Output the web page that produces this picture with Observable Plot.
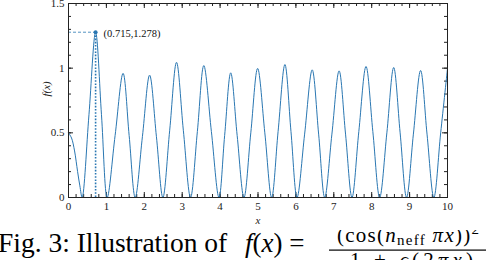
<!DOCTYPE html>
<html>
<head>
<meta charset="utf-8">
<script src="https://cdn.jsdelivr.net/npm/d3@7"></script>
<script src="https://cdn.jsdelivr.net/npm/@observablehq/plot@0.6"></script>
<style>
  html, body { margin: 0; padding: 0; background: white; width: 486px; height: 260px; overflow: hidden; }
  svg { display: block; }
  .serif, .serif text { font-family: "Liberation Serif", "Times New Roman", Times, "DejaVu Serif", serif !important; }
</style>
</head>
<body>
<div id="chart"></div>
<script>
// curve samples
const xs = [0, 0.08, 0.16, 0.24, 0.30, 0.36, 0.54, 0.715, 0.87, 1.02, 1.23, 1.44, 1.60, 1.76, 1.95, 2.14, 2.32, 2.49,
  2.67, 2.85, 3.03, 3.22, 3.40, 3.57, 3.77, 3.97, 4.12, 4.28, 4.45, 4.63, 4.81, 4.99, 5.18, 5.36, 5.53, 5.71, 5.87,
  6.03, 6.23, 6.43, 6.60, 6.76, 6.95, 7.14, 7.31, 7.48, 7.66, 7.85, 8.03, 8.21, 8.40, 8.58, 8.75, 8.92, 9.10, 9.29,
  9.46, 9.64, 9.82, 10.0];
const ys = [0.50, 0.46, 0.36, 0.20, 0.09, 0, 0.64, 1.278, 0.64, 0, 0.48, 0.96, 0.48, 0, 0.47, 0.946, 0.47, 0,
  0.52, 1.045, 0.52, 0, 0.51, 1.02, 0.51, 0, 0.48, 0.964, 0.48, 0, 0.50, 0.998, 0.50, 0, 0.51, 1.028, 0.51,
  0, 0.49, 0.987, 0.49, 0, 0.49, 0.979, 0.49, 0, 0.51, 1.013, 0.51, 0, 0.50, 1.005, 0.50, 0, 0.49, 0.982,
  0.49, 0, 0.50, 0.998];
const peak = [{x: 0.715, y: 1.278}];
const xTickLabels = [0, 1, 2, 3, 4, 5, 6, 7, 8, 9, 10];
const xMinorTicks = [0, 0.2, 0.4, 0.6, 0.8, 1, 1.2, 1.4, 1.6, 1.8, 2, 2.2, 2.4, 2.6, 2.8, 3, 3.2, 3.4, 3.6, 3.8, 4,
  4.2, 4.4, 4.6, 4.8, 5, 5.2, 5.4, 5.6, 5.8, 6, 6.2, 6.4, 6.6, 6.8, 7, 7.2, 7.4, 7.6, 7.8, 8, 8.2, 8.4, 8.6, 8.8, 9,
  9.2, 9.4, 9.6, 9.8, 10];
const yTickLabels = [0, 0.5, 1, 1.5];
const yMinorTicks = [0, 0.1, 0.2, 0.3, 0.4, 0.5, 0.6, 0.7, 0.8, 0.9, 1, 1.1, 1.2, 1.3, 1.4, 1.5];

const data = xs.map((x, i) => ({x, y: ys[i]}));
const blue = "#2a77b2";
const ink = "#222";
const W = 486, H = 230, mL = 68, mR = 39, mT = 3, mB = 33;
const fw = W - mL - mR, fh = H - mT - mB;

const chart = Plot.plot({
  width: W, height: H,
  marginLeft: mL, marginRight: mR, marginTop: mT, marginBottom: mB,
  className: "serif",
  x: {domain: [0, 10]},
  y: {domain: [0, 1.5]},
  style: {fontSize: "11px", background: "white", color: ink},
  marks: [
    Plot.tickX(xMinorTicks, {x: d => d, insetTop: fh - 3, stroke: ink}),
    Plot.tickX(xMinorTicks, {x: d => d, insetBottom: fh - 3, stroke: ink}),
    Plot.tickX(xTickLabels, {x: d => d, insetTop: fh - 5, stroke: ink}),
    Plot.tickX(xTickLabels, {x: d => d, insetBottom: fh - 5, stroke: ink}),
    Plot.tickY(yMinorTicks, {y: d => d, insetRight: fw - 3, stroke: ink}),
    Plot.tickY(yMinorTicks, {y: d => d, insetLeft: fw - 3, stroke: ink}),
    Plot.tickY(yTickLabels, {y: d => d, insetRight: fw - 5, stroke: ink}),
    Plot.tickY(yTickLabels, {y: d => d, insetLeft: fw - 5, stroke: ink}),
    Plot.axisX(xTickLabels, {tickSize: 0, tickPadding: 5, tickFormat: d => String(d), label: null}),
    Plot.axisY(yTickLabels, {tickSize: 0, tickPadding: 4, tickFormat: d => String(d), label: null}),
    Plot.text(["x"], {frameAnchor: "bottom", dy: 26, text: d => d, fontStyle: "italic", fontSize: 11}),
    Plot.text(["f(x)"], {frameAnchor: "left", dx: -22, dy: -4, rotate: -90, text: d => d, fontStyle: "italic", fontSize: 11}),
    Plot.line(data, {x: "x", y: "y", curve: "catmull-rom", stroke: blue, strokeWidth: 1}),
    Plot.ruleY(peak, {y: "y", x1: 0, x2: "x", stroke: blue, strokeWidth: 0.8, strokeDasharray: "3,2"}),
    Plot.ruleX(peak, {x: "x", y1: 0, y2: "y", stroke: blue, strokeWidth: 1.6, strokeDasharray: "1.6,1.6"}),
    Plot.dot(peak, {x: "x", y: "y", r: 2, fill: blue}),
    Plot.text(peak, {x: "x", y: "y", text: d => `(${d.x},${d.y})`, dx: 8, dy: 1, textAnchor: "start", fontSize: 10.5, fill: "#111"}),
    Plot.frame({stroke: ink, strokeWidth: 1})
  ]
});
document.getElementById("chart").appendChild(chart);

// caption
const ns = "http://www.w3.org/2000/svg";
const cap = document.createElementNS(ns, "svg");
cap.setAttribute("width", 486);
cap.setAttribute("height", 30);
cap.setAttribute("class", "serif");
cap.innerHTML = `
  <text x="-2" y="22" font-size="27.5">Fig. 3: Illustration of</text>
  <text x="245" y="22" font-size="27"><tspan font-style="italic">f</tspan>(<tspan font-style="italic">x</tspan>) =</text>
  <text x="337" y="12" font-size="21" textLength="142" lengthAdjust="spacing">(cos(<tspan font-style="italic">n</tspan><tspan font-size="15" dy="3">neff</tspan><tspan dy="-3"> </tspan><tspan font-style="italic">πx</tspan>))<tspan font-size="15" dy="-8">2</tspan></text>
  <rect x="329" y="19.5" width="170" height="1.2" fill="black"></rect>
  <text x="350" y="37" font-size="21" textLength="123" lengthAdjust="spacing">1 + <tspan font-style="italic">ϵ</tspan>(2<tspan font-style="italic">πx</tspan>)</text>
`;
document.getElementById("chart").appendChild(cap);
</script>
</body>
</html>
